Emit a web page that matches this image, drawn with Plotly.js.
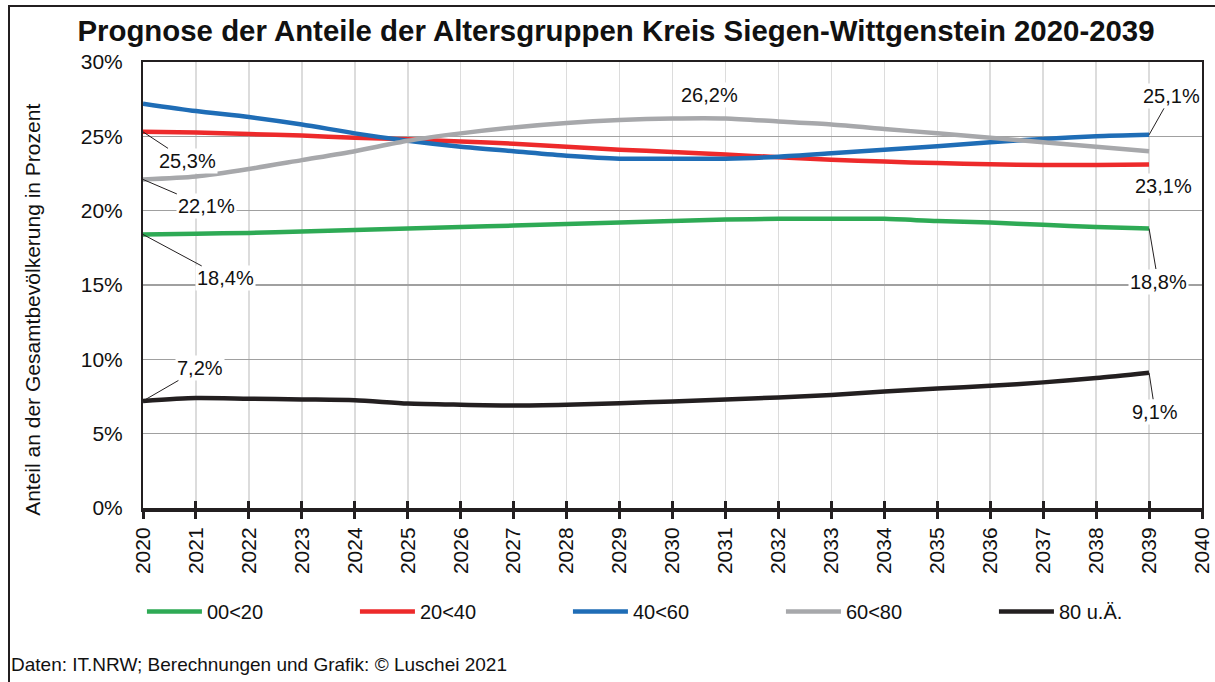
<!DOCTYPE html>
<html>
<head>
<meta charset="utf-8">
<script src="https://cdn.plot.ly/plotly-3.0.1.min.js"></script>
<style>
  html, body { margin: 0; padding: 0; background: #fff; }
  #wrap { position: relative; width: 1215px; height: 682px; }
  #chart { position: absolute; left: 0; top: 0; width: 1215px; height: 682px; }
  #frame { position: absolute; left: 8px; top: 5px; width: 1215px; height: 700px;
           border-left: 2px solid #231f20; border-top: 2px solid #231f20; pointer-events: none; }
</style>
</head>
<body>
<div id="wrap"><div id="chart"></div><div id="frame"></div></div>
<script>
const years = [2020,2021,2022,2023,2024,2025,2026,2027,2028,2029,2030,2031,2032,2033,2034,2035,2036,2037,2038,2039];
const seriesNames = ["00<20", "20<40", "40<60", "60<80", "80 u.Ä."];
const age00_20 = [18.4,18.45,18.5,18.6,18.7,18.8,18.9,19.0,19.1,19.2,19.3,19.4,19.45,19.45,19.45,19.3,19.2,19.05,18.9,18.8];
const age20_40 = [25.3,25.25,25.15,25.05,24.9,24.8,24.65,24.5,24.3,24.1,23.95,23.77,23.6,23.43,23.3,23.2,23.12,23.07,23.07,23.1];
const age40_60 = [27.2,26.7,26.3,25.8,25.2,24.7,24.3,24.0,23.7,23.5,23.5,23.5,23.63,23.86,24.1,24.33,24.6,24.82,25.0,25.1];
const age60_80 = [22.1,22.3,22.8,23.4,24.0,24.7,25.2,25.6,25.9,26.1,26.2,26.2,26.0,25.8,25.5,25.2,24.9,24.6,24.3,24.0];
const age80plus = [7.2,7.4,7.35,7.3,7.25,7.03,6.95,6.9,6.95,7.05,7.17,7.3,7.44,7.6,7.84,8.04,8.22,8.45,8.74,9.1];
const yTickVals = [0,5,10,15,20,25,30];
const yTickText = ["0%","5%","10%","15%","20%","25%","30%"];

const colors = ["#2eaa55", "#ed2a2b", "#1f6db6", "#a7a8ab", "#231f20"];
const allSeries = [age00_20, age20_40, age40_60, age60_80, age80plus];
const FONT = "Liberation Sans, Arial, Helvetica, sans-serif";

const traces = allSeries.map((s, i) => ({
  type: "scatter", mode: "lines", x: years, y: s, name: seriesNames[i],
  line: { color: colors[i], width: 4.5, shape: "spline", smoothing: 0.7 },
  hoverinfo: "skip"
}));

function fmt(v) { return v.toFixed(1).replace(".", ",") + "%"; }
const last = years.length - 1;
const peakIdx = 10;

// [series array, index, ax, ay, showarrow, xshift, yshift]
const labelSpecs = [
  [age20_40, 0, 44, 29, true, 0, 0],
  [age60_80, 0, 63, 27, true, 0, 0],
  [age00_20, 0, 82, 44, true, 0, 0],
  [age80plus, 0, 57, -33, true, 0, 0],
  [age60_80, peakIdx, 0, 0, false, 37, 23],
  [age40_60, last, 22, -39, true, 0, 0],
  [age20_40, last, 0, 0, false, 14, -21],
  [age00_20, last, 9, 53, true, 0, 0],
  [age80plus, last, 6, 39, true, 0, 0]
];
const annotations = labelSpecs.map(sp => ({
  x: years[sp[1]], y: sp[0][sp[1]], xref: "x", yref: "y",
  text: fmt(sp[0][sp[1]]),
  showarrow: sp[4], arrowhead: 0, arrowwidth: 1, arrowcolor: "#231f20",
  ax: sp[2], ay: sp[3], xshift: sp[5], yshift: sp[6],
  bgcolor: "#ffffff", borderpad: 1,
  font: { family: FONT, size: 20, color: "#111" }
}));
annotations.push({
  xref: "paper", yref: "paper", x: -0.127, y: -0.352, xanchor: "left", yanchor: "middle",
  showarrow: false, text: "Daten: IT.NRW; Berechnungen und Grafik: © Luschei 2021",
  font: { family: FONT, size: 19, color: "#111" }
});
annotations.push({
  xref: "paper", yref: "paper", x: -0.104, y: 0.444, xanchor: "center", yanchor: "middle",
  showarrow: false, textangle: -90, text: "Anteil an der Gesamtbevölkerung in Prozent",
  font: { family: FONT, size: 21, color: "#111" }
});

const layout = {
  width: 1215, height: 682,
  margin: { l: 143, r: 13, t: 62, b: 174 },
  paper_bgcolor: "#ffffff", plot_bgcolor: "#ffffff",
  title: { text: "<b>Prognose der Anteile der Altersgruppen Kreis Siegen-Wittgenstein 2020-2039</b>",
           x: 0.507, xanchor: "center", y: 0.955, yanchor: "middle",
           font: { family: FONT, size: 29.4, color: "#111" } },
  showlegend: true,
  legend: { orientation: "h", x: -0.001, xanchor: "left", y: -0.232, yanchor: "middle",
            itemwidth: 55, entrywidth: 143, entrywidthmode: "pixels",
            font: { family: FONT, size: 20, color: "#111" }, bgcolor: "rgba(0,0,0,0)" },
  xaxis: {
    range: [2020, 2040], dtick: 1, tick0: 2020, tickangle: -90,
    showgrid: true, gridcolor: "#dcdcdc", gridwidth: 1.5,
    showline: true, linecolor: "#231f20", linewidth: 4,
    ticks: "outside", ticklen: 7, tickwidth: 3, tickcolor: "#231f20",
    tickfont: { family: FONT, size: 21, color: "#111" },
    zeroline: false, fixedrange: true
  },
  xaxis2: {
    overlaying: "x", side: "top", range: [2020, 2040], showline: true, linecolor: "#231f20",
    linewidth: 2, showgrid: false, showticklabels: false, ticks: "", zeroline: false
  },
  xaxis3: {
    overlaying: "x", side: "bottom", anchor: "y", range: [2020, 2040], dtick: 1, tick0: 2020,
    showline: false, showgrid: false, showticklabels: false,
    ticks: "inside", ticklen: 7, tickwidth: 3, tickcolor: "#231f20", zeroline: false
  },
  yaxis: {
    range: [0, 30], tickvals: yTickVals, ticktext: yTickText,
    showgrid: true, gridcolor: "#a0a0a0", gridwidth: 1.5,
    showline: true, mirror: true, linecolor: "#231f20", linewidth: 2,
    ticks: "", tickfont: { family: FONT, size: 21, color: "#111" },
    ticklabelstandoff: 14,
    zeroline: false, fixedrange: true
  },
  annotations: annotations
};

traces.push({ type: "scatter", x: [2020], y: [0], xaxis: "x2", mode: "markers",
  marker: { opacity: 0 }, showlegend: false, hoverinfo: "skip" });
traces.push({ type: "scatter", x: [2020], y: [0], xaxis: "x3", mode: "markers",
  marker: { opacity: 0 }, showlegend: false, hoverinfo: "skip" });

Plotly.newPlot("chart", traces, layout, { staticPlot: true, displayModeBar: false });
</script>
</body>
</html>
